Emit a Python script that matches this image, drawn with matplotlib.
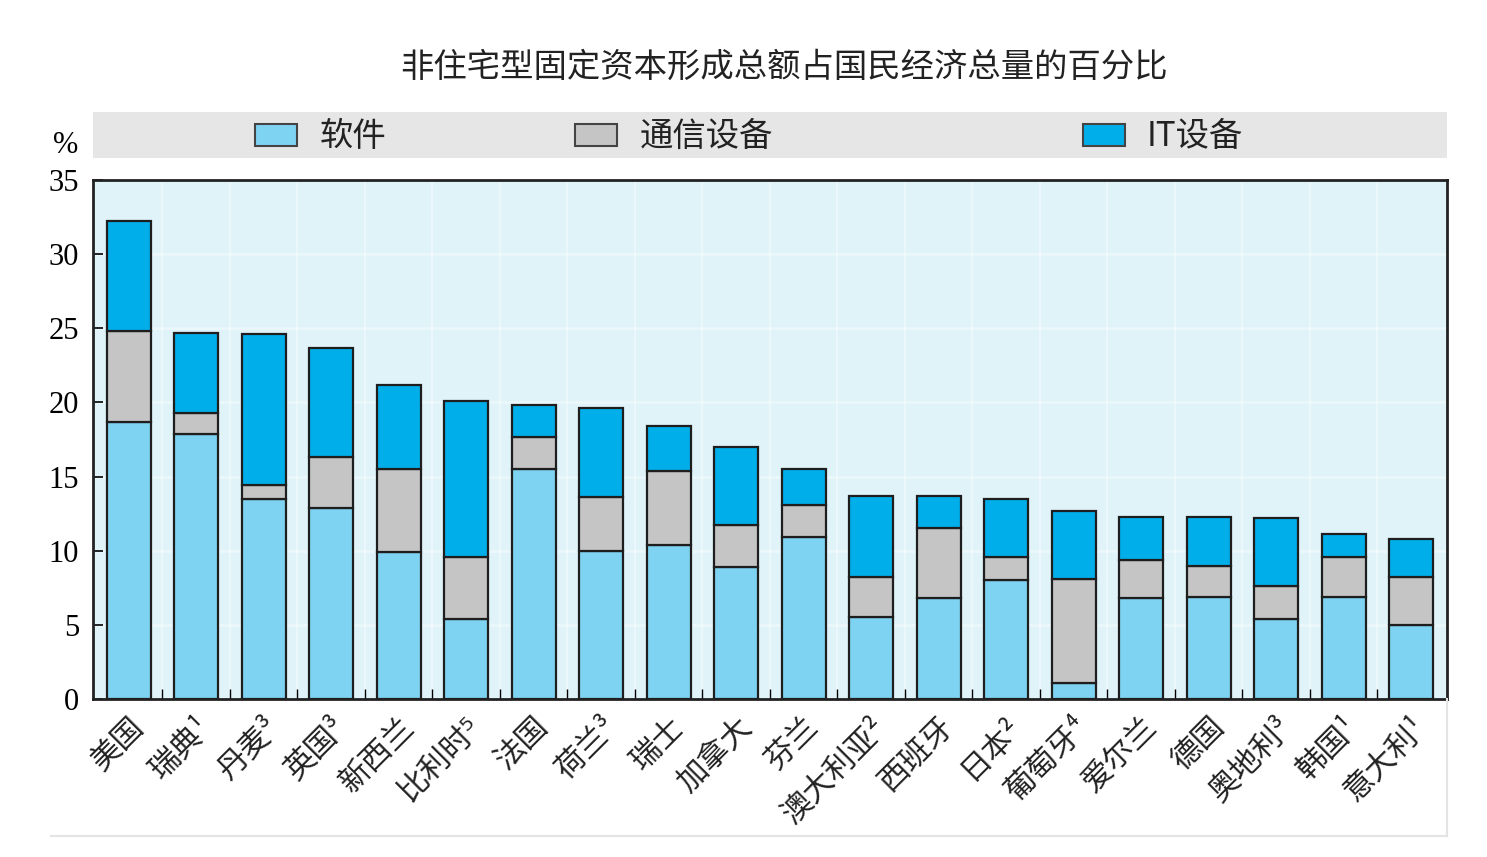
import numpy as np
import matplotlib.pyplot as plt
from matplotlib.patches import Rectangle

# 数据: 各国非住宅型固定资本形成中三类 ICT 投资的占比 (%)
countries = ["美国", "瑞典¹", "丹麦³", "英国³", "新西兰", "比利时⁵", "法国", "荷兰³", "瑞士",
             "加拿大", "芬兰", "澳大利亚²", "西班牙", "日本²", "葡萄牙⁴", "爱尔兰", "德国",
             "奥地利³", "韩国¹", "意大利¹"]
software = [18.7, 17.9, 13.5, 12.9, 9.9, 5.4, 15.5, 10.0, 10.4, 8.9,
            10.9, 5.5, 6.8, 8.0, 1.1, 6.8, 6.9, 5.4, 6.9, 5.0]
telecom = [6.1, 1.4, 0.9, 3.4, 5.6, 4.2, 2.2, 3.6, 5.0, 2.8,
           2.2, 2.7, 4.7, 1.6, 7.0, 2.6, 2.1, 2.2, 2.7, 3.2]
it_equip = [7.4, 5.4, 10.2, 7.4, 5.7, 10.5, 2.1, 6.0, 3.0, 5.3,
            2.4, 5.5, 2.2, 3.9, 4.6, 2.9, 3.3, 4.6, 1.5, 2.6]
yticks = [0, 5, 10, 15, 20, 25, 30, 35]

title = "非住宅型固定资本形成总额占国民经济总量的百分比"
legend_names = ["软件", "通信设备", "IT设备"]
colors = ["#7fd3f2", "#c5c5c6", "#00aeea"]

cjk = ["Noto Sans CJK SC", "DejaVu Sans"]
plt.rcParams["font.family"] = cjk

fig = plt.figure(figsize=(14.87, 8.57), dpi=100)
ax = fig.add_axes([0.0625, 0.1844, 0.9106, 0.6056])
ax.set_facecolor("#e0f3f9")

x = np.arange(len(countries))
software = np.array(software)
telecom = np.array(telecom)
it_equip = np.array(it_equip)

bar_kw = dict(width=0.65, edgecolor="#1e1e1e", linewidth=1.6, zorder=3)
ax.bar(x, software, color=colors[0], **bar_kw)
ax.bar(x, telecom, bottom=software, color=colors[1], **bar_kw)
ax.bar(x, it_equip, bottom=software + telecom, color=colors[2], **bar_kw)

# 淡白色网格
for yv in yticks[1:-1]:
    ax.axhline(yv, color="white", lw=1.8, alpha=0.4, zorder=1)
for xv in x[:-1] + 0.5:
    ax.axvline(xv, color="white", lw=1.5, alpha=0.4, zorder=1)

ax.set_xlim(-0.53, len(countries) - 0.47)
ax.set_ylim(0, 35)
ax.set_yticks(yticks)
ax.set_yticklabels([str(v) for v in yticks], family="Liberation Serif", fontsize=22)
ax.tick_params(axis="y", direction="in", length=7, width=1.2, pad=10)

ax.set_xticks(x)
ax.set_xticklabels(countries, rotation=45, ha="right", va="top",
                   rotation_mode="anchor", fontsize=22, color="#222222")
ax.tick_params(axis="x", length=0, pad=9)
ax.set_xticks(x[:-1] + 0.5, minor=True)
ax.tick_params(axis="x", which="minor", direction="in", length=7, width=1.0)

for s in ax.spines.values():
    s.set_linewidth(2)
    s.set_color("#222222")

# 图例条
lax = fig.add_axes([0.0625, 0.8156, 0.9106, 0.0537])
lax.set_facecolor("#e6e6e6")
lax.set_xlim(0, 1)
lax.set_ylim(0, 1)
lax.set_xticks([])
lax.set_yticks([])
for s in lax.spines.values():
    s.set_visible(False)
patch_x = [0.1196, 0.356, 0.731]
text_x = [0.1677, 0.404, 0.778]
for px, tx, c, name in zip(patch_x, text_x, colors, legend_names):
    lax.add_patch(Rectangle((px, 0.26), 0.031, 0.48, facecolor=c,
                            edgecolor="#444444", linewidth=1.5))
    lax.text(tx, 0.47, name, fontsize=24, va="center", ha="left", color="#222222")

fig.text(0.0444, 0.830, "%", family="Liberation Serif", fontsize=22,
         ha="center", va="center")
fig.text(0.527, 0.921, title, fontsize=24, ha="center", va="center", color="#222222")

# 底部淡灰色边线
fig.add_artist(plt.Line2D([0.034, 0.973], [0.024, 0.024], color="#e4e4e4", lw=1.5))
fig.add_artist(plt.Line2D([0.973, 0.973], [0.024, 0.184], color="#e4e4e4", lw=1.5))

fig.savefig("out.png", dpi=100)
